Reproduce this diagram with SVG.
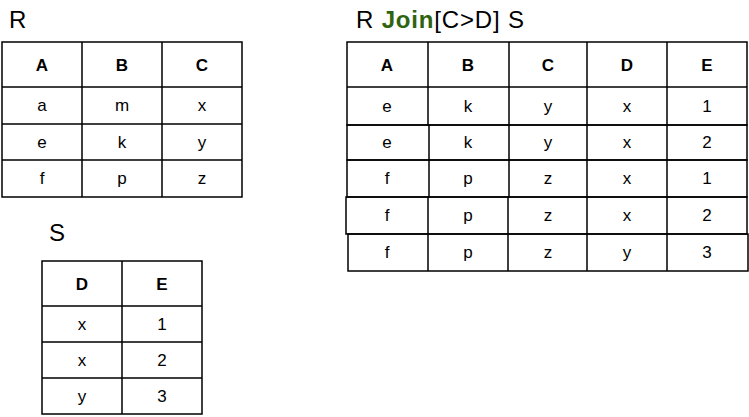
<svg xmlns="http://www.w3.org/2000/svg" width="749" height="417" viewBox="0 0 749 417">
<style>
.t{font-family:"Liberation Sans",Arial,sans-serif;font-size:24px;fill:#000}
.h{font-family:"Liberation Sans",Arial,sans-serif;font-size:17px;font-weight:bold;fill:#000;text-anchor:middle}
.c{font-family:"Liberation Sans",Arial,sans-serif;font-size:17px;fill:#000;text-anchor:middle}
.g{stroke:#000;stroke-width:1.5;fill:none}
.j{fill:#2e6410;font-weight:bold}
</style>
<rect width="749" height="417" fill="#fff"/>
<g id="R">
<text class="t" x="9" y="28">R</text>
<path class="g" d="M2,42H242V197H2Z M82,42V197 M162,42V197 M2,87H242 M2,124H242 M2,160H242"/>
<text class="h" x="42" y="71">A</text><text class="h" x="122" y="71">B</text><text class="h" x="202" y="71">C</text>
<text class="c" x="42" y="111">a</text><text class="c" x="122" y="111">m</text><text class="c" x="202" y="111">x</text>
<text class="c" x="42" y="148">e</text><text class="c" x="122" y="148">k</text><text class="c" x="202" y="148">y</text>
<text class="c" x="42" y="184">f</text><text class="c" x="122" y="184">p</text><text class="c" x="202" y="184">z</text>
</g>
<g id="S">
<text class="t" x="49" y="241">S</text>
<path class="g" d="M42,261H202V414H42Z M122,261V414 M42,306H202 M42,342H202 M42,378H202"/>
<text class="h" x="82" y="290">D</text><text class="h" x="162" y="290">E</text>
<text class="c" x="82" y="330">x</text><text class="c" x="162" y="330">1</text>
<text class="c" x="82" y="366">x</text><text class="c" x="162" y="366">2</text>
<text class="c" x="82" y="402">y</text><text class="c" x="162" y="402">3</text>
</g>
<g id="RJoinS">
<text class="t" x="356" y="28" textLength="168" lengthAdjust="spacing">R <tspan class="j">Join</tspan>[C&gt;D] S</text>
<path class="g" d="M347,42H747V125H347Z M428,42V125 M509,42V125 M587,42V125 M667,42V125 M347,87H747"/>
<path class="g" d="M347,125H747V160H347Z M429,125V160 M509,125V160 M587,125V160 M667,125V160"/>
<path class="g" d="M347,160H747V197H347Z M429,160V197 M509,160V197 M587,160V197 M667,160V197"/>
<path class="g" d="M346,197H747V234H346Z M428,197V234 M508,197V234 M587,197V234 M667,197V234"/>
<path class="g" d="M348,234H748V271H348Z M428,234V271 M508,234V271 M587,234V271 M667,234V271"/>
<text class="h" x="387" y="71">A</text><text class="h" x="468" y="71">B</text><text class="h" x="548" y="71">C</text><text class="h" x="627" y="71">D</text><text class="h" x="707" y="71">E</text>
<text class="c" x="387" y="112">e</text><text class="c" x="468" y="112">k</text><text class="c" x="548" y="112">y</text><text class="c" x="627" y="112">x</text><text class="c" x="707" y="112">1</text>
<text class="c" x="387" y="148">e</text><text class="c" x="468" y="148">k</text><text class="c" x="548" y="148">y</text><text class="c" x="627" y="148">x</text><text class="c" x="707" y="148">2</text>
<text class="c" x="387" y="184">f</text><text class="c" x="468" y="184">p</text><text class="c" x="548" y="184">z</text><text class="c" x="627" y="184">x</text><text class="c" x="707" y="184">1</text>
<text class="c" x="387" y="221">f</text><text class="c" x="468" y="221">p</text><text class="c" x="548" y="221">z</text><text class="c" x="627" y="221">x</text><text class="c" x="707" y="221">2</text>
<text class="c" x="387" y="258">f</text><text class="c" x="468" y="258">p</text><text class="c" x="548" y="258">z</text><text class="c" x="627" y="258">y</text><text class="c" x="707" y="258">3</text>
</g>
</svg>
